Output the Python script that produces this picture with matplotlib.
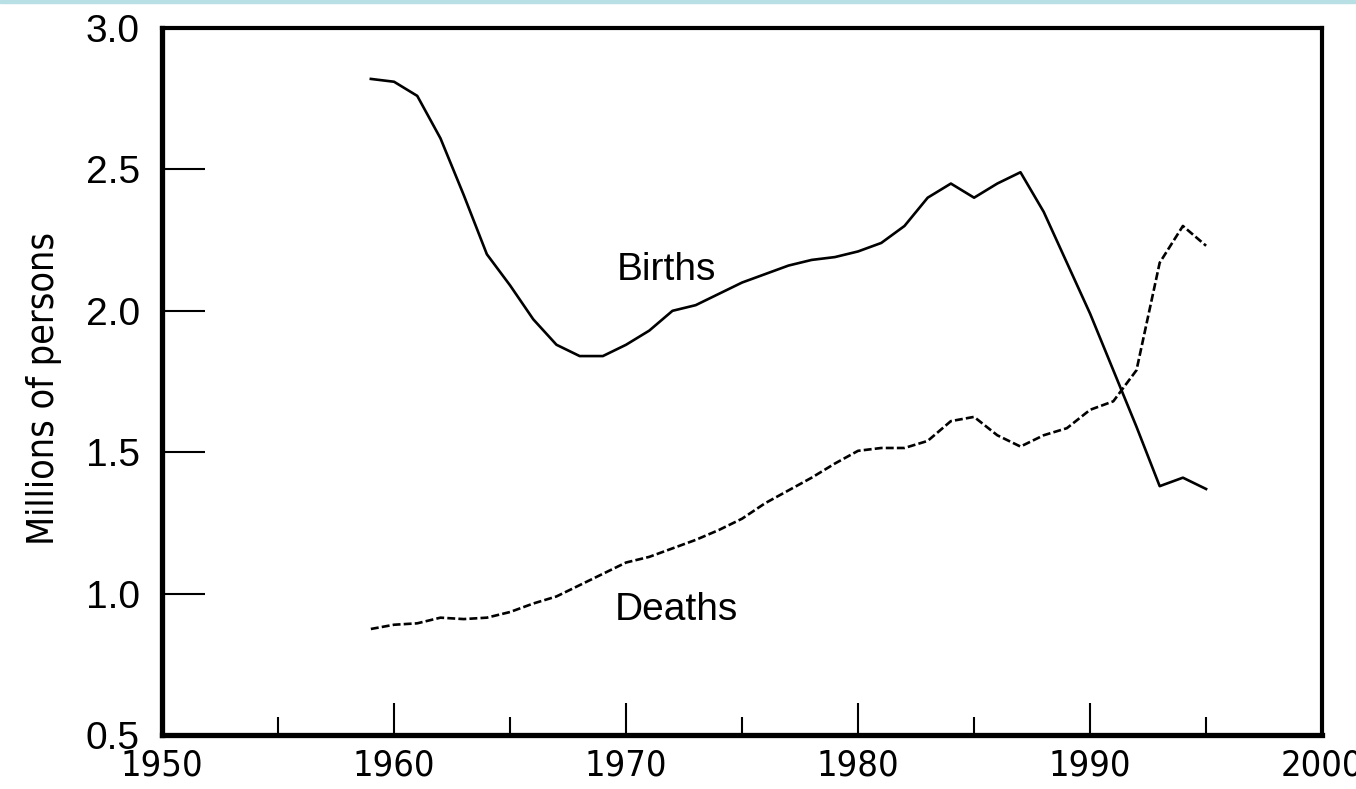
import matplotlib
matplotlib.use("Agg")
import matplotlib.pyplot as plt
from matplotlib.patches import Rectangle
from matplotlib.ticker import MultipleLocator, FormatStrFormatter

years = list(range(1959, 1996))

births = [2.82, 2.81, 2.76, 2.61, 2.41, 2.20, 2.09, 1.97, 1.88, 1.84,
          1.84, 1.88, 1.93, 2.00, 2.02, 2.06, 2.10, 2.13, 2.16, 2.18,
          2.19, 2.21, 2.24, 2.30, 2.40, 2.45, 2.40, 2.45, 2.49, 2.35,
          2.17, 1.99, 1.79, 1.59, 1.38, 1.41, 1.37]

deaths = [0.875, 0.89, 0.895, 0.915, 0.91, 0.915, 0.935, 0.965, 0.99, 1.03,
          1.07, 1.11, 1.13, 1.16, 1.19, 1.225, 1.265, 1.32, 1.365, 1.41,
          1.46, 1.505, 1.515, 1.515, 1.54, 1.61, 1.625, 1.56, 1.52, 1.56,
          1.585, 1.65, 1.68, 1.79, 2.17, 2.30, 2.23]

label_font = ['Liberation Sans', 'DejaVu Sans']

fig = plt.figure(figsize=(13.56, 7.89), dpi=100)
ax = fig.add_axes([0.1195, 0.0684, 0.9750 - 0.1195, 0.9645 - 0.0684])

# light cyan strip along the top edge
fig.patches.append(Rectangle((0, 0.996), 1, 0.004, transform=fig.transFigure,
                             color='#b8e0e4', zorder=0))

ax.plot(years, births, color='black', lw=1.9)
ax.plot(years, deaths, color='black', lw=1.9, linestyle=(0, (3.0, 1.2)))

ax.text(1969.6, 2.11, 'Births', fontsize=28, family=label_font, va='baseline')
ax.text(1969.5, 0.907, 'Deaths', fontsize=28, family=label_font, va='baseline')

ax.set_xlim(1950, 2000)
ax.set_ylim(0.5, 3.0)
ax.xaxis.set_major_locator(MultipleLocator(10))
ax.xaxis.set_minor_locator(MultipleLocator(5))
ax.yaxis.set_major_locator(MultipleLocator(0.5))
ax.yaxis.set_major_formatter(FormatStrFormatter('%.1f'))

ax.tick_params(axis='y', which='major', direction='in', length=31, width=1.5,
               pad=16, labelsize=28, right=False)
ax.tick_params(axis='x', which='major', direction='in', length=23, width=1.5,
               pad=10, labelsize=26, top=False)
ax.tick_params(axis='x', which='minor', direction='in', length=13, width=1.5, top=False)
for lab in ax.get_yticklabels():
    lab.set_family(label_font)
for lab in ax.get_xticklabels():
    lab.set_family(['DejaVu Sans'])
    lab.set_fontstretch('condensed')

ax.spines['left'].set_linewidth(3.8)
ax.spines['bottom'].set_linewidth(3.8)
ax.spines['top'].set_linewidth(3.0)
ax.spines['right'].set_linewidth(3.0)

ax.set_ylabel('Millions of persons', fontsize=27, family=['DejaVu Sans'],
              fontstretch='condensed')
ax.yaxis.set_label_coords(-0.086, 0.49)

fig.savefig('out.png', dpi=100, facecolor='white')
